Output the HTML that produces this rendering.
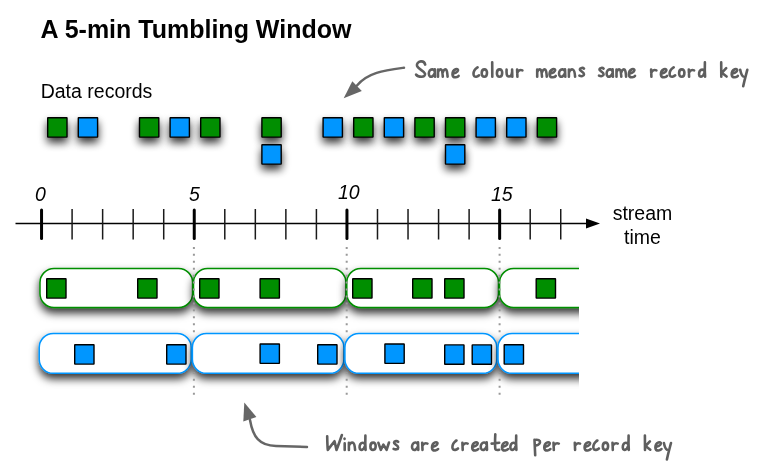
<!DOCTYPE html>
<html><head><meta charset="utf-8"><style>
html,body{margin:0;padding:0;background:#fff;width:762px;height:476px;overflow:hidden}
svg{position:absolute;left:0;top:0}
text{-webkit-font-smoothing:antialiased}
text{font-family:"Liberation Sans",sans-serif}
</style></head><body>
<svg width="762" height="476" viewBox="0 0 762 476">
<defs>
<filter id="sh" x="-100%" y="-100%" width="300%" height="300%">
<feDropShadow dx="0" dy="5" stdDeviation="4" flood-color="#000" flood-opacity="0.8"/>
</filter>
<filter id="wsh" x="-10%" y="-50%" width="120%" height="200%">
<feDropShadow dx="0" dy="5" stdDeviation="4" flood-color="#000" flood-opacity="0.8"/>
</filter>
<clipPath id="clip"><rect x="0" y="0" width="579" height="476"/></clipPath>
<clipPath id="dclip"><rect x="0" y="0" width="762" height="335"/><rect x="0" y="372" width="762" height="104"/></clipPath>
</defs>
<g opacity="0.999">
<text x="40.6" y="38" font-size="25" font-weight="bold" fill="#000">A 5-min Tumbling Window</text>
<text x="40.7" y="97.6" font-size="19.5" fill="#000">Data records</text>
<rect x="47.70" y="117.70" width="19.3" height="19.4" rx="0.3" fill="#008e00" stroke="#000" stroke-width="1.4" filter="url(#sh)"/><rect x="139.50" y="117.70" width="19.3" height="19.4" rx="0.3" fill="#008e00" stroke="#000" stroke-width="1.4" filter="url(#sh)"/><rect x="200.70" y="117.70" width="19.3" height="19.4" rx="0.3" fill="#008e00" stroke="#000" stroke-width="1.4" filter="url(#sh)"/><rect x="261.90" y="117.70" width="19.3" height="19.4" rx="0.3" fill="#008e00" stroke="#000" stroke-width="1.4" filter="url(#sh)"/><rect x="353.70" y="117.70" width="19.3" height="19.4" rx="0.3" fill="#008e00" stroke="#000" stroke-width="1.4" filter="url(#sh)"/><rect x="414.90" y="117.70" width="19.3" height="19.4" rx="0.3" fill="#008e00" stroke="#000" stroke-width="1.4" filter="url(#sh)"/><rect x="445.50" y="117.70" width="19.3" height="19.4" rx="0.3" fill="#008e00" stroke="#000" stroke-width="1.4" filter="url(#sh)"/><rect x="537.30" y="117.70" width="19.3" height="19.4" rx="0.3" fill="#008e00" stroke="#000" stroke-width="1.4" filter="url(#sh)"/><rect x="78.30" y="117.70" width="19.3" height="19.4" rx="0.3" fill="#0096ff" stroke="#000" stroke-width="1.4" filter="url(#sh)"/><rect x="170.10" y="117.70" width="19.3" height="19.4" rx="0.3" fill="#0096ff" stroke="#000" stroke-width="1.4" filter="url(#sh)"/><rect x="323.10" y="117.70" width="19.3" height="19.4" rx="0.3" fill="#0096ff" stroke="#000" stroke-width="1.4" filter="url(#sh)"/><rect x="384.30" y="117.70" width="19.3" height="19.4" rx="0.3" fill="#0096ff" stroke="#000" stroke-width="1.4" filter="url(#sh)"/><rect x="476.10" y="117.70" width="19.3" height="19.4" rx="0.3" fill="#0096ff" stroke="#000" stroke-width="1.4" filter="url(#sh)"/><rect x="506.70" y="117.70" width="19.3" height="19.4" rx="0.3" fill="#0096ff" stroke="#000" stroke-width="1.4" filter="url(#sh)"/><rect x="261.90" y="144.70" width="19.3" height="19.4" rx="0.3" fill="#0096ff" stroke="#000" stroke-width="1.4" filter="url(#sh)"/><rect x="445.50" y="144.70" width="19.3" height="19.4" rx="0.3" fill="#0096ff" stroke="#000" stroke-width="1.4" filter="url(#sh)"/>
<line x1="15.5" y1="223.5" x2="590" y2="223.5" stroke="#000" stroke-width="1.5"/><path d="M586,218.5 L600,223.5 L586,228.5 Z" fill="#000"/><line x1="41.55" y1="210" x2="41.55" y2="238.5" stroke="#000" stroke-width="3" stroke-linecap="round"/><line x1="72.09" y1="209" x2="72.09" y2="239.5" stroke="#1a1a1a" stroke-width="1.5"/><line x1="102.63" y1="209" x2="102.63" y2="239.5" stroke="#1a1a1a" stroke-width="1.5"/><line x1="133.17" y1="209" x2="133.17" y2="239.5" stroke="#1a1a1a" stroke-width="1.5"/><line x1="163.71" y1="209" x2="163.71" y2="239.5" stroke="#1a1a1a" stroke-width="1.5"/><line x1="194.25" y1="210" x2="194.25" y2="238.5" stroke="#000" stroke-width="3" stroke-linecap="round"/><line x1="224.79" y1="209" x2="224.79" y2="239.5" stroke="#1a1a1a" stroke-width="1.5"/><line x1="255.33" y1="209" x2="255.33" y2="239.5" stroke="#1a1a1a" stroke-width="1.5"/><line x1="285.87" y1="209" x2="285.87" y2="239.5" stroke="#1a1a1a" stroke-width="1.5"/><line x1="316.41" y1="209" x2="316.41" y2="239.5" stroke="#1a1a1a" stroke-width="1.5"/><line x1="346.95" y1="210" x2="346.95" y2="238.5" stroke="#000" stroke-width="3" stroke-linecap="round"/><line x1="377.49" y1="209" x2="377.49" y2="239.5" stroke="#1a1a1a" stroke-width="1.5"/><line x1="408.03" y1="209" x2="408.03" y2="239.5" stroke="#1a1a1a" stroke-width="1.5"/><line x1="438.57" y1="209" x2="438.57" y2="239.5" stroke="#1a1a1a" stroke-width="1.5"/><line x1="469.11" y1="209" x2="469.11" y2="239.5" stroke="#1a1a1a" stroke-width="1.5"/><line x1="499.65" y1="210" x2="499.65" y2="238.5" stroke="#000" stroke-width="3" stroke-linecap="round"/><line x1="530.19" y1="209" x2="530.19" y2="239.5" stroke="#1a1a1a" stroke-width="1.5"/><line x1="560.73" y1="209" x2="560.73" y2="239.5" stroke="#1a1a1a" stroke-width="1.5"/>
<g font-style="italic" font-size="19.5" fill="#000">
<text x="35" y="200.5">0</text>
<text x="189" y="201">5</text>
<text x="338" y="198.8">10</text>
<text x="491" y="200.8">15</text>
</g>
<text x="642.5" y="219.8" font-size="19.5" text-anchor="middle">stream</text>
<text x="642.5" y="243.7" font-size="19.5" text-anchor="middle">time</text>
</g>
<g clip-path="url(#clip)">
<rect x="40.00" y="268.50" width="152.60" height="39.00" rx="14" fill="#fff" stroke="#008e00" stroke-width="1.5" filter="url(#wsh)"/><rect x="193.50" y="268.50" width="152.40" height="39.00" rx="14" fill="#fff" stroke="#008e00" stroke-width="1.5" filter="url(#wsh)"/><rect x="346.80" y="268.50" width="151.70" height="39.00" rx="14" fill="#fff" stroke="#008e00" stroke-width="1.5" filter="url(#wsh)"/><rect x="499.60" y="268.50" width="160.40" height="39.00" rx="14" fill="#fff" stroke="#008e00" stroke-width="1.5" filter="url(#wsh)"/><rect x="39.25" y="333.50" width="151.95" height="39.80" rx="14" fill="#fff" stroke="#0096ff" stroke-width="1.5" filter="url(#wsh)"/><rect x="192.40" y="333.50" width="151.50" height="39.80" rx="14" fill="#fff" stroke="#0096ff" stroke-width="1.5" filter="url(#wsh)"/><rect x="344.90" y="333.50" width="151.90" height="39.80" rx="14" fill="#fff" stroke="#0096ff" stroke-width="1.5" filter="url(#wsh)"/><rect x="498.00" y="333.50" width="162.00" height="39.80" rx="14" fill="#fff" stroke="#0096ff" stroke-width="1.5" filter="url(#wsh)"/>
</g>
<g clip-path="url(#dclip)"><line x1="193.9" y1="246.9" x2="193.9" y2="395" stroke="#999" stroke-width="2" stroke-dasharray="2 4.94"/><line x1="346.7" y1="246.9" x2="346.7" y2="395" stroke="#999" stroke-width="2" stroke-dasharray="2 4.94"/><line x1="499.6" y1="246.9" x2="499.6" y2="395" stroke="#999" stroke-width="2" stroke-dasharray="2 4.94"/></g>
<rect x="46.70" y="278.70" width="19.3" height="19.4" rx="0.3" fill="#008e00" stroke="#000" stroke-width="1.4"/><rect x="137.70" y="278.70" width="19.3" height="19.4" rx="0.3" fill="#008e00" stroke="#000" stroke-width="1.4"/><rect x="199.70" y="278.70" width="19.3" height="19.4" rx="0.3" fill="#008e00" stroke="#000" stroke-width="1.4"/><rect x="260.10" y="278.70" width="19.3" height="19.4" rx="0.3" fill="#008e00" stroke="#000" stroke-width="1.4"/><rect x="352.70" y="278.70" width="19.3" height="19.4" rx="0.3" fill="#008e00" stroke="#000" stroke-width="1.4"/><rect x="412.70" y="278.70" width="19.3" height="19.4" rx="0.3" fill="#008e00" stroke="#000" stroke-width="1.4"/><rect x="444.70" y="278.70" width="19.3" height="19.4" rx="0.3" fill="#008e00" stroke="#000" stroke-width="1.4"/><rect x="536.20" y="278.70" width="19.3" height="19.4" rx="0.3" fill="#008e00" stroke="#000" stroke-width="1.4"/><rect x="74.70" y="344.70" width="19.3" height="19.4" rx="0.3" fill="#0096ff" stroke="#000" stroke-width="1.4"/><rect x="166.70" y="344.70" width="19.3" height="19.4" rx="0.3" fill="#0096ff" stroke="#000" stroke-width="1.4"/><rect x="260.10" y="344.00" width="19.3" height="19.4" rx="0.3" fill="#0096ff" stroke="#000" stroke-width="1.4"/><rect x="317.70" y="344.70" width="19.3" height="19.4" rx="0.3" fill="#0096ff" stroke="#000" stroke-width="1.4"/><rect x="384.90" y="344.00" width="19.3" height="19.4" rx="0.3" fill="#0096ff" stroke="#000" stroke-width="1.4"/><rect x="444.70" y="344.90" width="19.3" height="19.4" rx="0.3" fill="#0096ff" stroke="#000" stroke-width="1.4"/><rect x="472.20" y="344.90" width="19.3" height="19.4" rx="0.3" fill="#0096ff" stroke="#000" stroke-width="1.4"/><rect x="504.20" y="344.70" width="19.3" height="19.4" rx="0.3" fill="#0096ff" stroke="#000" stroke-width="1.4"/>
<g fill="none" stroke="#666" stroke-width="2.5" stroke-linecap="round">
<path d="M404,67.7 C384,70.5 368,72.5 357,85.5"/>
<path d="M250,420 C253,437 259,445.5 276,446 L307,447"/>
</g>
<g fill="#666">
<path d="M343.7,98.3 L352.3,81.2 L361.8,91 Z"/>
<path d="M244.3,402.5 L243.3,421.4 L256.4,417.1 Z"/>
</g>
<g fill="none" stroke="#5e5e5e" stroke-width="2.6" stroke-linecap="round" stroke-linejoin="round"><path transform="translate(415.0,77.8)" d="M10.2,-13.2 C9.5,-15.8 7.5,-16.6 5.8,-16.4 C3,-16.1 1.6,-14 2,-12 C2.6,-9 9,-7.2 10,-4.2 C10.6,-2 8.6,-1.1 6.6,-1.1 C4.2,-1.1 2,-2 1.1,-3.2"/><path transform="translate(427.8,77.8)" d="M6.9,-6.6 C6,-8.7 3.4,-9.1 2,-7.3 C0.6,-5.5 0.7,-2.3 2.2,-1.3 C3.8,-0.4 6.2,-2 6.9,-4.6 M7,-8.6 L7.3,-1.1"/><path transform="translate(436.8,77.8)" d="M1.2,-8.2 L1.2,-1.1 M1.2,-5.5 C2,-8 3.5,-8.8 4.5,-8.2 C5.5,-7.6 5.8,-4 6,-1.1 M6,-5.5 C6.8,-8 8.3,-8.8 9.3,-8.2 C10.3,-7.5 10.6,-4 10.8,-1.1"/><path transform="translate(451.3,77.8)" d="M1.3,-4 C3.2,-4.2 6.4,-5.6 6.7,-7.4 C6.9,-8.7 5.5,-9.1 4.3,-8.6 C2.1,-7.7 1.1,-5 1.2,-3.2 C1.4,-1.2 3,-0.4 4.5,-0.5 C5.8,-0.6 6.8,-1.2 7.3,-1.9"/><path transform="translate(472.3,77.8)" d="M4.9,-10.2 C2.5,-8.8 1.2,-6.3 1.2,-3.7 C1.2,-1.6 2.5,-1 4,-1.1 C5,-1.2 6,-1.8 6.8,-2.5 M4.4,-10 L5.3,-10.5"/><path transform="translate(480.6,77.8)" d="M3.9,-8.4 C2,-8.4 1.1,-6.5 1.1,-4.6 C1.1,-2.3 2.3,-1.1 3.8,-1.1 C5.4,-1.1 6.4,-2.8 6.4,-5 C6.4,-7 5.4,-8.4 3.9,-8.4 Z"/><path transform="translate(491.0,77.8)" d="M1.2,-15.5 L1.3,-1.1"/><path transform="translate(495.8,77.8)" d="M3.9,-8.4 C2,-8.4 1.1,-6.5 1.1,-4.6 C1.1,-2.3 2.3,-1.1 3.8,-1.1 C5.4,-1.1 6.4,-2.8 6.4,-5 C6.4,-7 5.4,-8.4 3.9,-8.4 Z"/><path transform="translate(505.4,77.8)" d="M1.2,-8.2 C1,-5 1,-1.3 3.5,-1.3 C5.5,-1.3 6.5,-3.5 6.7,-6 M6.7,-8.3 L6.9,-1"/><path transform="translate(515.6,77.8)" d="M1.5,-8.2 L1.8,-1.1 M1.6,-4.8 C2.5,-7.4 4.5,-8.4 6.8,-7.4"/><path transform="translate(536.0,77.8)" d="M1.2,-8.2 L1.2,-1.1 M1.2,-5.5 C2,-8 3.5,-8.8 4.5,-8.2 C5.5,-7.6 5.8,-4 6,-1.1 M6,-5.5 C6.8,-8 8.3,-8.8 9.3,-8.2 C10.3,-7.5 10.6,-4 10.8,-1.1"/><path transform="translate(548.4,77.8)" d="M1.3,-4 C3.2,-4.2 6.4,-5.6 6.7,-7.4 C6.9,-8.7 5.5,-9.1 4.3,-8.6 C2.1,-7.7 1.1,-5 1.2,-3.2 C1.4,-1.2 3,-0.4 4.5,-0.5 C5.8,-0.6 6.8,-1.2 7.3,-1.9"/><path transform="translate(558.0,77.8)" d="M6.9,-6.6 C6,-8.7 3.4,-9.1 2,-7.3 C0.6,-5.5 0.7,-2.3 2.2,-1.3 C3.8,-0.4 6.2,-2 6.9,-4.6 M7,-8.6 L7.3,-1.1"/><path transform="translate(567.7,77.8)" d="M1.2,-8.2 L1.2,-1.1 M1.2,-5 C2,-7.8 3.8,-8.8 5.3,-8.2 C6.8,-7.6 7.2,-4 7.4,-1.1"/><path transform="translate(578.2,77.8)" d="M5.8,-9.2 C4.8,-10.3 2,-10.1 1.6,-8.5 C1.2,-6.6 5.8,-6.2 5.8,-3.6 C5.8,-1.4 3,-1.2 1.2,-2.2"/><path transform="translate(597.8,77.8)" d="M5.8,-9.2 C4.8,-10.3 2,-10.1 1.6,-8.5 C1.2,-6.6 5.8,-6.2 5.8,-3.6 C5.8,-1.4 3,-1.2 1.2,-2.2"/><path transform="translate(605.6,77.8)" d="M6.9,-6.6 C6,-8.7 3.4,-9.1 2,-7.3 C0.6,-5.5 0.7,-2.3 2.2,-1.3 C3.8,-0.4 6.2,-2 6.9,-4.6 M7,-8.6 L7.3,-1.1"/><path transform="translate(615.3,77.8)" d="M1.2,-8.2 L1.2,-1.1 M1.2,-5.5 C2,-8 3.5,-8.8 4.5,-8.2 C5.5,-7.6 5.8,-4 6,-1.1 M6,-5.5 C6.8,-8 8.3,-8.8 9.3,-8.2 C10.3,-7.5 10.6,-4 10.8,-1.1"/><path transform="translate(627.7,77.8)" d="M1.3,-4 C3.2,-4.2 6.4,-5.6 6.7,-7.4 C6.9,-8.7 5.5,-9.1 4.3,-8.6 C2.1,-7.7 1.1,-5 1.2,-3.2 C1.4,-1.2 3,-0.4 4.5,-0.5 C5.8,-0.6 6.8,-1.2 7.3,-1.9"/><path transform="translate(649.6,77.8)" d="M1.5,-8.2 L1.8,-1.1 M1.6,-4.8 C2.5,-7.4 4.5,-8.4 6.8,-7.4"/><path transform="translate(659.7,77.8)" d="M1.3,-4 C3.2,-4.2 6.4,-5.6 6.7,-7.4 C6.9,-8.7 5.5,-9.1 4.3,-8.6 C2.1,-7.7 1.1,-5 1.2,-3.2 C1.4,-1.2 3,-0.4 4.5,-0.5 C5.8,-0.6 6.8,-1.2 7.3,-1.9"/><path transform="translate(668.4,77.8)" d="M4.9,-10.2 C2.5,-8.8 1.2,-6.3 1.2,-3.7 C1.2,-1.6 2.5,-1 4,-1.1 C5,-1.2 6,-1.8 6.8,-2.5 M4.4,-10 L5.3,-10.5"/><path transform="translate(678.0,77.8)" d="M3.9,-8.4 C2,-8.4 1.1,-6.5 1.1,-4.6 C1.1,-2.3 2.3,-1.1 3.8,-1.1 C5.4,-1.1 6.4,-2.8 6.4,-5 C6.4,-7 5.4,-8.4 3.9,-8.4 Z"/><path transform="translate(687.3,77.8)" d="M1.5,-8.2 L1.8,-1.1 M1.6,-4.8 C2.5,-7.4 4.5,-8.4 6.8,-7.4"/><path transform="translate(697.8,77.8)" d="M6.6,-6.8 C5.6,-8.6 3.2,-8.7 2,-6.8 C0.9,-4.9 1,-1.6 2.5,-1.2 C4,-0.9 5.9,-2.5 6.6,-5 M7.1,-15.4 C6.9,-10 7,-5 7.3,-1.1"/><path transform="translate(720.0,77.8)" d="M1.2,-15.4 L1.3,-1.1 M6.2,-9.6 L1.8,-5 L6.6,-1.3"/><path transform="translate(730.5,77.8)" d="M1.3,-4 C3.2,-4.2 6.4,-5.6 6.7,-7.4 C6.9,-8.7 5.5,-9.1 4.3,-8.6 C2.1,-7.7 1.1,-5 1.2,-3.2 C1.4,-1.2 3,-0.4 4.5,-0.5 C5.8,-0.6 6.8,-1.2 7.3,-1.9"/><path transform="translate(739.0,77.8)" d="M1.2,-8 C1.8,-5 3,-2 4.2,-1.3 M8.3,-8 C7,-3 5.5,2 4.2,8.5"/><path transform="translate(326.0,451.0)" d="M1.2,-14.8 C1.3,-9 1.5,-4 1.8,-1.1 L8.5,-9.8 L10.5,-1.1 C12.5,-6 14.5,-12 15.9,-16"/><path transform="translate(343.5,451.0)" d="M1.2,-7.6 L1.2,-1.1 M1,-12.4 L1.1,-12.2"/><path transform="translate(347.7,451.0)" d="M1.2,-8.2 L1.2,-1.1 M1.2,-5 C2,-7.8 3.8,-8.8 5.3,-8.2 C6.8,-7.6 7.2,-4 7.4,-1.1"/><path transform="translate(358.3,451.0)" d="M6.6,-6.8 C5.6,-8.6 3.2,-8.7 2,-6.8 C0.9,-4.9 1,-1.6 2.5,-1.2 C4,-0.9 5.9,-2.5 6.6,-5 M7.1,-15.4 C6.9,-10 7,-5 7.3,-1.1"/><path transform="translate(369.3,451.0)" d="M3.9,-8.4 C2,-8.4 1.1,-6.5 1.1,-4.6 C1.1,-2.3 2.3,-1.1 3.8,-1.1 C5.4,-1.1 6.4,-2.8 6.4,-5 C6.4,-7 5.4,-8.4 3.9,-8.4 Z"/><path transform="translate(377.2,451.0)" d="M1.2,-8.2 L3.6,-1.2 L6.2,-6.4 L9.4,-1.2 L11.8,-8.5"/><path transform="translate(392.4,451.0)" d="M5.8,-9.2 C4.8,-10.3 2,-10.1 1.6,-8.5 C1.2,-6.6 5.8,-6.2 5.8,-3.6 C5.8,-1.4 3,-1.2 1.2,-2.2"/><path transform="translate(411.0,451.0)" d="M6.9,-6.6 C6,-8.7 3.4,-9.1 2,-7.3 C0.6,-5.5 0.7,-2.3 2.2,-1.3 C3.8,-0.4 6.2,-2 6.9,-4.6 M7,-8.6 L7.3,-1.1"/><path transform="translate(420.7,451.0)" d="M1.5,-8.2 L1.8,-1.1 M1.6,-4.8 C2.5,-7.4 4.5,-8.4 6.8,-7.4"/><path transform="translate(430.8,451.0)" d="M1.3,-4 C3.2,-4.2 6.4,-5.6 6.7,-7.4 C6.9,-8.7 5.5,-9.1 4.3,-8.6 C2.1,-7.7 1.1,-5 1.2,-3.2 C1.4,-1.2 3,-0.4 4.5,-0.5 C5.8,-0.6 6.8,-1.2 7.3,-1.9"/><path transform="translate(451.2,451.0)" d="M4.9,-10.2 C2.5,-8.8 1.2,-6.3 1.2,-3.7 C1.2,-1.6 2.5,-1 4,-1.1 C5,-1.2 6,-1.8 6.8,-2.5 M4.4,-10 L5.3,-10.5"/><path transform="translate(460.9,451.0)" d="M1.5,-8.2 L1.8,-1.1 M1.6,-4.8 C2.5,-7.4 4.5,-8.4 6.8,-7.4"/><path transform="translate(471.0,451.0)" d="M1.3,-4 C3.2,-4.2 6.4,-5.6 6.7,-7.4 C6.9,-8.7 5.5,-9.1 4.3,-8.6 C2.1,-7.7 1.1,-5 1.2,-3.2 C1.4,-1.2 3,-0.4 4.5,-0.5 C5.8,-0.6 6.8,-1.2 7.3,-1.9"/><path transform="translate(479.7,451.0)" d="M6.9,-6.6 C6,-8.7 3.4,-9.1 2,-7.3 C0.6,-5.5 0.7,-2.3 2.2,-1.3 C3.8,-0.4 6.2,-2 6.9,-4.6 M7,-8.6 L7.3,-1.1"/><path transform="translate(490.7,451.0)" d="M4.6,-16.8 C4.3,-11 4.3,-5 4.6,-2 C4.9,-0.7 6.5,-0.8 8.5,-1.2 M0.9,-7.4 L8.5,-8.3"/><path transform="translate(500.8,451.0)" d="M1.3,-4 C3.2,-4.2 6.4,-5.6 6.7,-7.4 C6.9,-8.7 5.5,-9.1 4.3,-8.6 C2.1,-7.7 1.1,-5 1.2,-3.2 C1.4,-1.2 3,-0.4 4.5,-0.5 C5.8,-0.6 6.8,-1.2 7.3,-1.9"/><path transform="translate(509.1,451.0)" d="M6.6,-6.8 C5.6,-8.6 3.2,-8.7 2,-6.8 C0.9,-4.9 1,-1.6 2.5,-1.2 C4,-0.9 5.9,-2.5 6.6,-5 M7.1,-15.4 C6.9,-10 7,-5 7.3,-1.1"/><path transform="translate(533.2,451.0)" d="M1.3,-11.2 L2,4.2 M1.4,-11 C4.8,-11.8 7.2,-10.6 6.8,-8.4 C6.4,-6.4 3.6,-5.3 1.8,-5.8"/><path transform="translate(543.1,451.0)" d="M1.3,-4 C3.2,-4.2 6.4,-5.6 6.7,-7.4 C6.9,-8.7 5.5,-9.1 4.3,-8.6 C2.1,-7.7 1.1,-5 1.2,-3.2 C1.4,-1.2 3,-0.4 4.5,-0.5 C5.8,-0.6 6.8,-1.2 7.3,-1.9"/><path transform="translate(552.0,451.0)" d="M1.5,-8.2 L1.8,-1.1 M1.6,-4.8 C2.5,-7.4 4.5,-8.4 6.8,-7.4"/><path transform="translate(573.3,451.0)" d="M1.5,-8.2 L1.8,-1.1 M1.6,-4.8 C2.5,-7.4 4.5,-8.4 6.8,-7.4"/><path transform="translate(583.4,451.0)" d="M1.3,-4 C3.2,-4.2 6.4,-5.6 6.7,-7.4 C6.9,-8.7 5.5,-9.1 4.3,-8.6 C2.1,-7.7 1.1,-5 1.2,-3.2 C1.4,-1.2 3,-0.4 4.5,-0.5 C5.8,-0.6 6.8,-1.2 7.3,-1.9"/><path transform="translate(592.1,451.0)" d="M4.9,-10.2 C2.5,-8.8 1.2,-6.3 1.2,-3.7 C1.2,-1.6 2.5,-1 4,-1.1 C5,-1.2 6,-1.8 6.8,-2.5 M4.4,-10 L5.3,-10.5"/><path transform="translate(601.7,451.0)" d="M3.9,-8.4 C2,-8.4 1.1,-6.5 1.1,-4.6 C1.1,-2.3 2.3,-1.1 3.8,-1.1 C5.4,-1.1 6.4,-2.8 6.4,-5 C6.4,-7 5.4,-8.4 3.9,-8.4 Z"/><path transform="translate(611.0,451.0)" d="M1.5,-8.2 L1.8,-1.1 M1.6,-4.8 C2.5,-7.4 4.5,-8.4 6.8,-7.4"/><path transform="translate(621.5,451.0)" d="M6.6,-6.8 C5.6,-8.6 3.2,-8.7 2,-6.8 C0.9,-4.9 1,-1.6 2.5,-1.2 C4,-0.9 5.9,-2.5 6.6,-5 M7.1,-15.4 C6.9,-10 7,-5 7.3,-1.1"/><path transform="translate(643.7,451.0)" d="M1.2,-15.4 L1.3,-1.1 M6.2,-9.6 L1.8,-5 L6.6,-1.3"/><path transform="translate(654.2,451.0)" d="M1.3,-4 C3.2,-4.2 6.4,-5.6 6.7,-7.4 C6.9,-8.7 5.5,-9.1 4.3,-8.6 C2.1,-7.7 1.1,-5 1.2,-3.2 C1.4,-1.2 3,-0.4 4.5,-0.5 C5.8,-0.6 6.8,-1.2 7.3,-1.9"/><path transform="translate(662.7,451.0)" d="M1.2,-8 C1.8,-5 3,-2 4.2,-1.3 M8.3,-8 C7,-3 5.5,2 4.2,8.5"/></g>
</svg>
</body></html>
